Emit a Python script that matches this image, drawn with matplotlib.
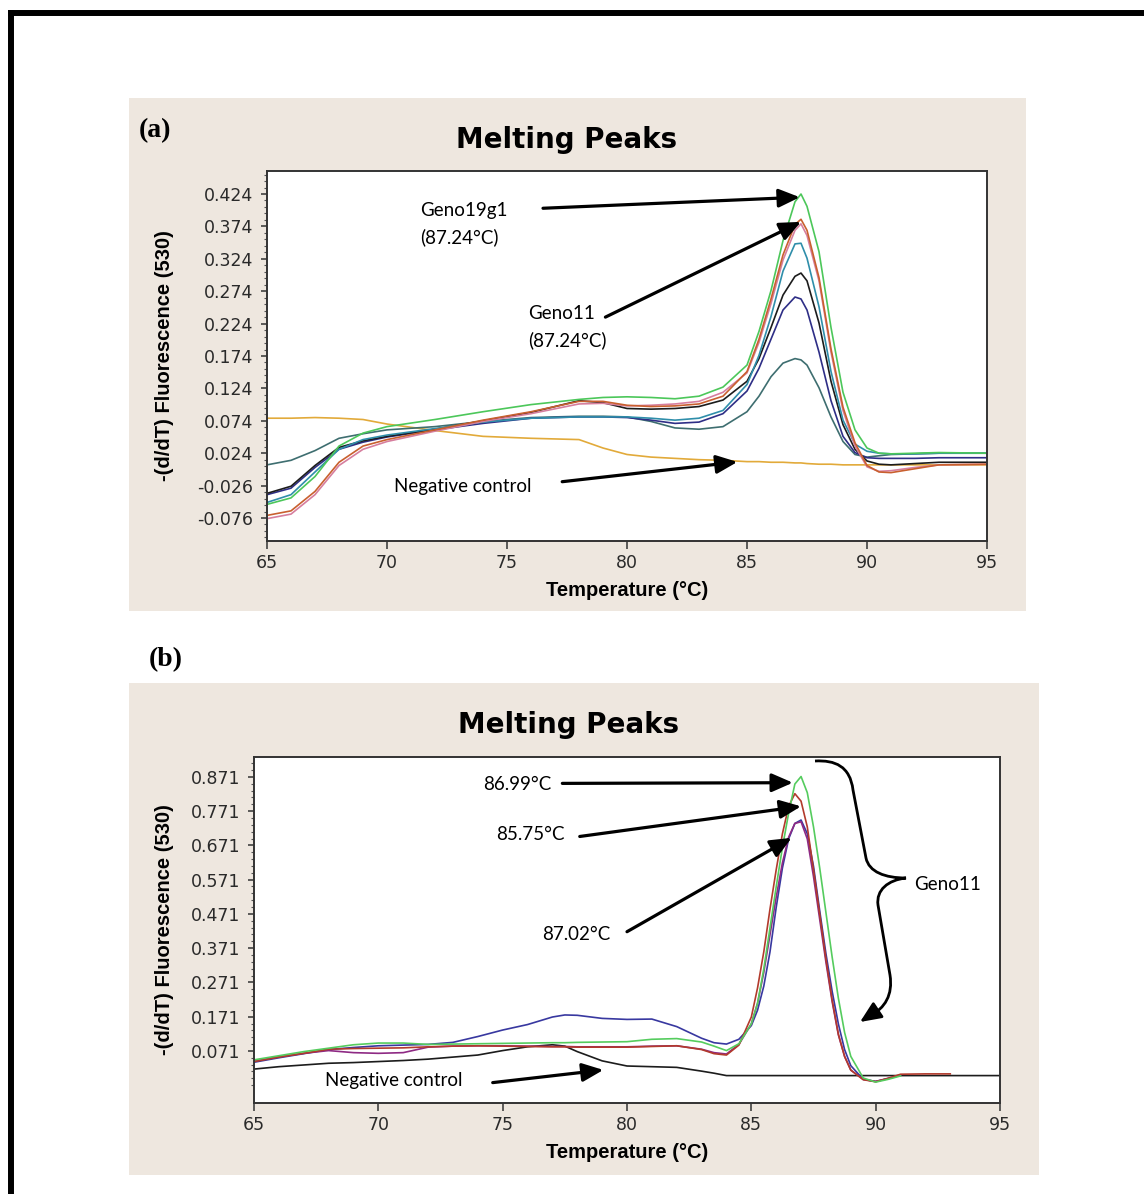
import numpy as np
import matplotlib
matplotlib.use("Agg")
import matplotlib.pyplot as plt
from matplotlib.lines import Line2D
from matplotlib.patches import Rectangle, PathPatch
from matplotlib.path import Path
from matplotlib.ticker import FixedLocator

# ---------------- data: panel (a) ----------------
temp_a = [65, 66, 67, 68, 69, 70, 72, 74, 76, 78, 79, 80, 81, 82, 83, 84, 85, 85.5,
          86, 86.5, 87, 87.25, 87.5, 88, 88.5, 89, 89.5, 90, 90.5, 91, 92, 93, 95]
a_green = [-0.055, -0.045, -0.012, 0.035, 0.055, 0.065, 0.076, 0.088, 0.099, 0.107, 0.110, 0.111,
           0.110, 0.108, 0.112, 0.126, 0.160, 0.212, 0.275, 0.352, 0.412, 0.424, 0.405, 0.335,
           0.218, 0.118, 0.060, 0.032, 0.024, 0.023, 0.024, 0.025, 0.024]
a_orange = [-0.072, -0.065, -0.035, 0.010, 0.035, 0.045, 0.060, 0.075, 0.088, 0.104, 0.104, 0.098,
            0.096, 0.097, 0.100, 0.112, 0.150, 0.200, 0.262, 0.330, 0.377, 0.385, 0.368, 0.295,
            0.185, 0.095, 0.040, 0.005, -0.005, -0.006, 0.000, 0.006, 0.007]
a_pink = [-0.077, -0.070, -0.040, 0.005, 0.030, 0.042, 0.058, 0.073, 0.085, 0.100, 0.101, 0.097,
          0.098, 0.100, 0.104, 0.118, 0.148, 0.195, 0.255, 0.322, 0.368, 0.378, 0.360, 0.290,
          0.180, 0.090, 0.035, 0.003, -0.004, -0.003, 0.002, 0.006, 0.007]
a_teal = [-0.052, -0.040, -0.005, 0.030, 0.045, 0.052, 0.062, 0.072, 0.078, 0.080, 0.080, 0.080,
          0.078, 0.075, 0.078, 0.090, 0.130, 0.175, 0.235, 0.305, 0.347, 0.348, 0.325, 0.250,
          0.150, 0.075, 0.038, 0.027, 0.024, 0.023, 0.023, 0.024, 0.024]
a_black = [-0.038, -0.027, 0.005, 0.033, 0.043, 0.050, 0.061, 0.074, 0.087, 0.105, 0.102, 0.093,
           0.092, 0.093, 0.096, 0.106, 0.135, 0.170, 0.218, 0.268, 0.297, 0.302, 0.290, 0.225,
           0.135, 0.068, 0.030, 0.012, 0.007, 0.006, 0.008, 0.010, 0.010]
a_navy = [-0.040, -0.030, 0.002, 0.030, 0.041, 0.049, 0.060, 0.070, 0.078, 0.080, 0.080, 0.079,
          0.075, 0.070, 0.072, 0.085, 0.120, 0.155, 0.200, 0.245, 0.265, 0.262, 0.245, 0.180,
          0.105, 0.050, 0.025, 0.017, 0.016, 0.016, 0.016, 0.017, 0.017]
a_darkteal = [0.006, 0.013, 0.028, 0.047, 0.054, 0.060, 0.065, 0.073, 0.079, 0.081, 0.081, 0.080,
              0.073, 0.063, 0.061, 0.065, 0.088, 0.112, 0.142, 0.163, 0.170, 0.168, 0.160, 0.125,
              0.080, 0.042, 0.022, 0.018, 0.020, 0.022, 0.023, 0.024, 0.024]
a_negative = [0.078, 0.078, 0.079, 0.078, 0.076, 0.069, 0.059, 0.050, 0.047, 0.045, 0.032, 0.022,
              0.018, 0.016, 0.014, 0.013, 0.011, 0.011, 0.010, 0.010, 0.009, 0.009, 0.008, 0.007,
              0.007, 0.006, 0.006, 0.006, 0.006, 0.006, 0.006, 0.006, 0.006]
yticks_a = [-0.076, -0.026, 0.024, 0.074, 0.124, 0.174, 0.224, 0.274, 0.324, 0.374, 0.424]

# ---------------- data: panel (b) ----------------
temp_b = [65, 66, 67, 68, 69, 70, 71, 72, 73, 74, 75, 76, 77, 77.5, 78, 79, 80, 81, 82, 83, 83.5,
          84, 84.5, 85, 85.25, 85.5, 85.75, 86, 86.25, 86.5, 86.75, 87, 87.25, 87.5, 87.75, 88,
          88.25, 88.5, 88.75, 89, 89.5, 90, 90.5, 91, 92, 93, 95]
b_green = [0.045, 0.057, 0.069, 0.079, 0.089, 0.094, 0.094, 0.090, 0.091, 0.092, 0.093, 0.094,
           0.095, 0.095, 0.096, 0.097, 0.098, 0.105, 0.107, 0.097, 0.085, 0.072, 0.092, 0.150,
           0.210, 0.310, 0.430, 0.550, 0.665, 0.765, 0.850, 0.872, 0.825, 0.725, 0.605, 0.475,
           0.345, 0.225, 0.125, 0.055, -0.008, -0.020, -0.012, -0.002, None, None, None]
b_red = [0.040, 0.053, 0.064, 0.076, 0.078, 0.079, 0.080, 0.083, 0.085, 0.086, 0.085, 0.084,
         0.083, 0.083, 0.082, 0.082, 0.082, 0.084, 0.086, 0.075, 0.063, 0.059, 0.088, 0.170,
         0.255, 0.360, 0.485, 0.600, 0.705, 0.785, 0.822, 0.800, 0.725, 0.600, 0.470, 0.340,
         0.220, 0.120, 0.055, 0.015, -0.013, -0.019, -0.009, 0.003, 0.004, 0.004, None]
b_blue = [0.038, 0.051, 0.063, 0.075, 0.081, 0.086, 0.088, 0.090, 0.096, 0.113, 0.132, 0.148,
          0.170, 0.176, 0.175, 0.166, 0.163, 0.164, 0.142, 0.108, 0.095, 0.091, 0.105, 0.145,
          0.190, 0.260, 0.360, 0.490, 0.605, 0.690, 0.735, 0.745, 0.705, 0.610, 0.480, 0.355,
          0.245, 0.150, 0.075, 0.028, -0.012, -0.018, -0.010, 0.000, None, None, None]
b_purple = [0.041, 0.054, 0.064, 0.072, 0.066, 0.064, 0.066, 0.082, 0.085, 0.086, 0.086, 0.085,
            0.084, 0.084, 0.083, 0.083, 0.083, 0.085, 0.086, 0.076, 0.066, 0.062, 0.090, 0.150,
            0.210, 0.300, 0.410, 0.520, 0.620, 0.695, 0.735, 0.740, 0.690, 0.580, 0.455, 0.330,
            0.215, 0.118, 0.055, 0.015, -0.012, -0.018, -0.009, 0.001, None, None, None]
b_negative = [0.018, 0.025, 0.030, 0.035, 0.037, 0.040, 0.043, 0.047, 0.053, 0.059, 0.072, 0.083,
              0.089, 0.085, 0.069, 0.042, 0.027, 0.025, 0.023, 0.012, 0.006, -0.001, -0.001,
              -0.001, -0.001, -0.001, -0.001, -0.001, -0.001, -0.001, -0.001, -0.001, -0.001,
              -0.001, -0.001, -0.001, -0.001, -0.001, -0.001, -0.001, -0.001, -0.001, -0.001,
              -0.001, -0.001, -0.001, -0.001]
yticks_b = [0.071, 0.171, 0.271, 0.371, 0.471, 0.571, 0.671, 0.771, 0.871]
xticks = [65, 70, 75, 80, 85, 90, 95]

# ---------------- figure ----------------
W, H = 1144, 1194
fig = plt.figure(figsize=(W / 100, H / 100), dpi=100)
fig.patch.set_facecolor("white")
BEIGE = "#EEE7DF"


def fx(px):
    return px / W


def fy(py):
    return 1 - py / H


# outer frame (top and left black rules)
fig.add_artist(Line2D([fx(8), 1.0], [fy(13), fy(13)], color="black", lw=4.3,
                      transform=fig.transFigure, solid_capstyle="butt"))
fig.add_artist(Line2D([fx(11), fx(11)], [fy(10), 0.0], color="black", lw=4.3,
                      transform=fig.transFigure, solid_capstyle="butt"))

# beige panels
fig.add_artist(Rectangle((fx(129), fy(611)), (1026 - 129) / W, (611 - 98) / H,
                         transform=fig.transFigure, facecolor=BEIGE, edgecolor="none", zorder=0))
fig.add_artist(Rectangle((fx(129), fy(1175)), (1039 - 129) / W, (1175 - 683) / H,
                         transform=fig.transFigure, facecolor=BEIGE, edgecolor="none", zorder=0))

ax_a = fig.add_axes([fx(267), fy(541), 720 / W, 370 / H])
ax_b = fig.add_axes([fx(254), fy(1103), 746 / W, 346 / H])

TICKFONT = dict(family="DejaVu Sans", size=12.5)
LABELFONT = dict(family=["Liberation Sans", "DejaVu Sans"], weight="bold", size=14.5)
TITLEFONT = dict(family="DejaVu Sans", weight="heavy", size=20)
ANNFONT = dict(family=["Lato", "DejaVu Sans"], size=13.5)
ARROW = dict(arrowstyle="-|>,head_length=0.8,head_width=0.35", color="black", lw=2.3,
             mutation_scale=16, shrinkA=0, shrinkB=0)


def style_axes(ax, yticks, ylim, minor_step):
    ax.set_facecolor("white")
    ax.set_xlim(65, 95)
    ax.set_ylim(*ylim)
    ax.set_xticks(xticks)
    ax.set_xticklabels([str(t) for t in xticks], **TICKFONT)
    ax.yaxis.set_major_locator(FixedLocator(yticks))
    ax.set_yticklabels([f"{t:.3f}" for t in yticks], **TICKFONT)
    minors = np.arange(yticks[0] - 5 * minor_step, yticks[-1] + 5 * minor_step, minor_step)
    ax.yaxis.set_minor_locator(FixedLocator(minors))
    ax.tick_params(axis="x", direction="out", length=6, width=1.1, color="#333333",
                   pad=3, labelcolor="#2a2a2a")
    ax.tick_params(axis="y", which="major", direction="out", length=4, width=1.1,
                   color="#333333", pad=6, labelcolor="#2a2a2a")
    ax.tick_params(axis="y", which="minor", direction="out", length=2.5, width=0.8,
                   color="#555555")
    for s in ax.spines.values():
        s.set_color("#333333")
        s.set_linewidth(1.4)


style_axes(ax_a, yticks_a, (-0.1115, 0.4595), 0.01)
style_axes(ax_b, yticks_b, (-0.081, 0.929), 0.02)

# ---------------- curves (a) ----------------
series_a = [
    (a_negative, "#E2AA3A"),
    (a_darkteal, "#3E6E70"),
    (a_navy, "#2E2E86"),
    (a_black, "#1C1C1C"),
    (a_teal, "#2F8EAA"),
    (a_pink, "#D67E9E"),
    (a_orange, "#C9602F"),
    (a_green, "#4CC75A"),
]
for vals, col in series_a:
    ax_a.plot(temp_a, np.array(vals, dtype=float), color=col, lw=1.2)

# ---------------- curves (b) ----------------
series_b = [
    (b_negative, "#1C1C1C"),
    (b_blue, "#3838A0"),
    (b_purple, "#8E2A84"),
    (b_red, "#B23A2C"),
    (b_green, "#55CC5E"),
]
for vals, col in series_b:
    ax_b.plot(temp_b, np.array(vals, dtype=float), color=col, lw=1.2)

# ---------------- titles and labels ----------------
fig.text(fx(567), fy(140), "Melting Peaks", ha="center", va="center", **TITLEFONT)
fig.text(fx(569), fy(725), "Melting Peaks", ha="center", va="center", **TITLEFONT)
fig.text(fx(139), fy(131), "(a)", ha="left", va="center",
         family="Liberation Serif", weight="bold", size=20)
fig.text(fx(149), fy(660), "(b)", ha="left", va="center",
         family="Liberation Serif", weight="bold", size=20)
fig.text(fx(627), fy(590), "Temperature (\u00b0C)", ha="center", va="center", **LABELFONT)
fig.text(fx(627), fy(1152), "Temperature (\u00b0C)", ha="center", va="center", **LABELFONT)
fig.text(fx(165), fy(356), "-(d/dT) Fluorescence (530)", ha="center", va="center",
         rotation=90, **LABELFONT)
fig.text(fx(165), fy(930), "-(d/dT) Fluorescence (530)", ha="center", va="center",
         rotation=90, **LABELFONT)

# ---------------- annotations (a) ----------------
ax_a.text(71.4, 0.399, "Geno19g1", ha="left", va="center", **ANNFONT)
ax_a.text(71.4, 0.358, "(87.24\u00b0C)", ha="left", va="center", **ANNFONT)
ax_a.annotate("", xy=(87.2, 0.419), xytext=(76.5, 0.402), arrowprops=ARROW)
ax_a.text(75.9, 0.240, "Geno11", ha="left", va="center", **ANNFONT)
ax_a.text(75.9, 0.199, "(87.24\u00b0C)", ha="left", va="center", **ANNFONT)
ax_a.annotate("", xy=(87.25, 0.381), xytext=(79.1, 0.234), arrowprops=ARROW)
ax_a.text(70.3, -0.027, "Negative control", ha="left", va="center", **ANNFONT)
ax_a.annotate("", xy=(84.6, 0.0105), xytext=(77.3, -0.020), arrowprops=ARROW)

# ---------------- annotations (b) ----------------
ax_b.text(74.2, 0.848, "86.99\u00b0C", ha="left", va="center", **ANNFONT)
ax_b.annotate("", xy=(86.67, 0.854), xytext=(77.4, 0.852), arrowprops=ARROW)
ax_b.text(74.75, 0.702, "85.75\u00b0C", ha="left", va="center", **ANNFONT)
ax_b.annotate("", xy=(87.0, 0.785), xytext=(78.1, 0.697), arrowprops=ARROW)
ax_b.text(76.6, 0.410, "87.02\u00b0C", ha="left", va="center", **ANNFONT)
ax_b.annotate("", xy=(86.62, 0.693), xytext=(80.0, 0.419), arrowprops=ARROW)
ax_b.text(91.55, 0.556, "Geno11", ha="left", va="center", **ANNFONT)
ax_b.text(67.85, -0.014, "Negative control", ha="left", va="center", **ANNFONT)
ax_b.annotate("", xy=(79.05, 0.0155), xytext=(74.6, -0.0215), arrowprops=ARROW)

# curly brace drawn in figure-pixel space
pix = matplotlib.transforms.Affine2D().scale(1 / W, -1 / H).translate(0, 1) + fig.transFigure
verts = [
    (815, 761),
    (835, 760), (850, 766), (853, 790),
    (866, 858),
    (869, 872), (885, 878), (906, 878),
    (888, 880), (876, 890), (878, 905),
    (890, 975),
    (893, 995), (885, 1008), (870, 1016),
]
codes = [Path.MOVETO,
         Path.CURVE4, Path.CURVE4, Path.CURVE4,
         Path.LINETO,
         Path.CURVE4, Path.CURVE4, Path.CURVE4,
         Path.CURVE4, Path.CURVE4, Path.CURVE4,
         Path.LINETO,
         Path.CURVE4, Path.CURVE4, Path.CURVE4]
fig.add_artist(PathPatch(Path(verts, codes), transform=pix, facecolor="none",
                         edgecolor="black", lw=2.0))
fig.add_artist(matplotlib.patches.FancyArrowPatch(
    (872, 1014), (860, 1022), transform=pix,
    arrowstyle="-|>,head_length=0.8,head_width=0.35", mutation_scale=16,
    color="black", lw=2.0, shrinkA=0, shrinkB=0))

fig.savefig("out.png", dpi=100, facecolor="white")
